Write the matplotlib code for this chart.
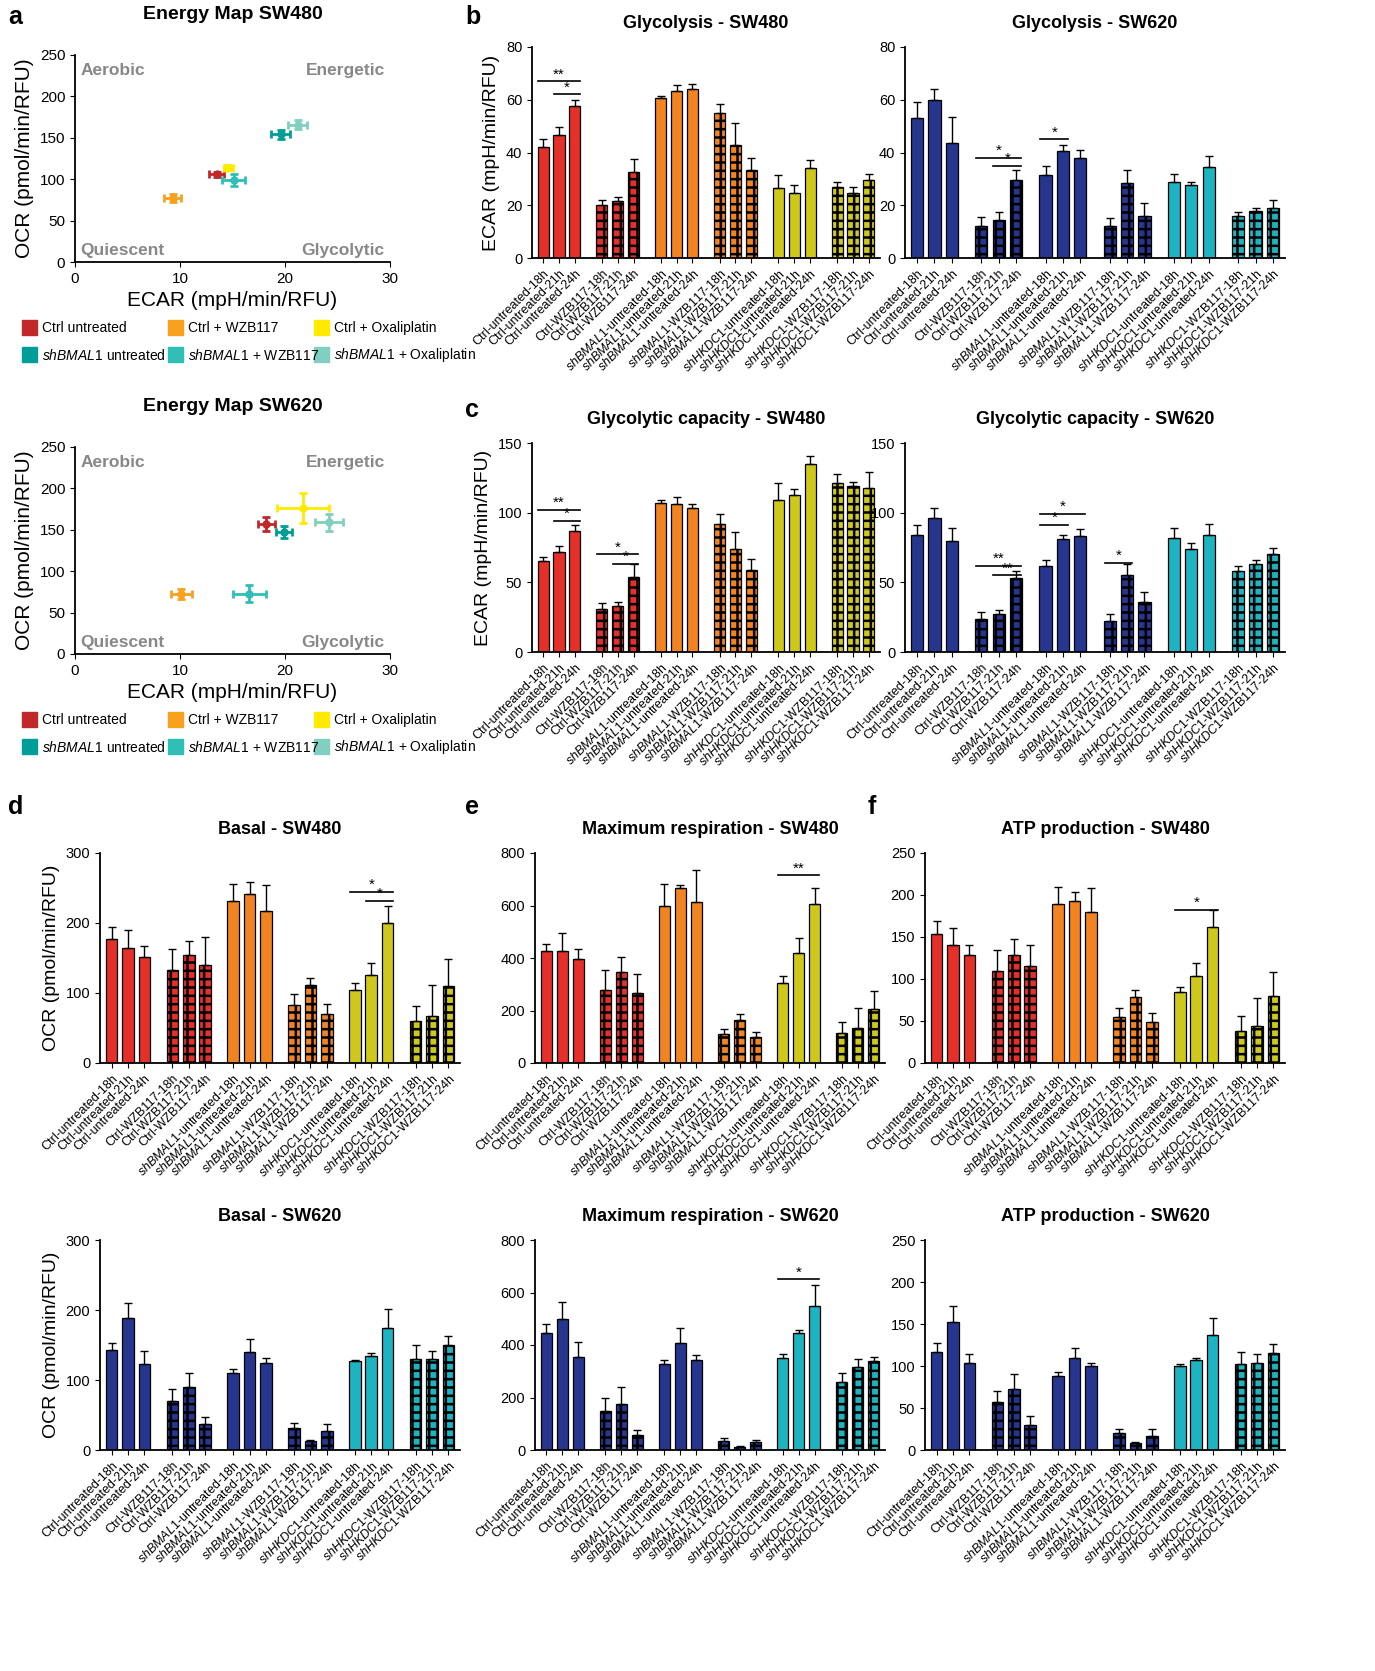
import numpy as np
import matplotlib.pyplot as plt

plt.rcParams['font.family'] = 'Liberation Sans'
plt.rcParams['mathtext.fontset'] = 'custom'
plt.rcParams['mathtext.it'] = 'Liberation Sans:italic'
plt.rcParams['mathtext.rm'] = 'Liberation Sans'
plt.rcParams['hatch.linewidth'] = 1.8

W, H = 1375, 1671
fig = plt.figure(figsize=(W/100, H/100), dpi=100)

def ax_px(x0, y0, x1, y1):
    return fig.add_axes([x0/W, 1-y1/H, (x1-x0)/W, (y1-y0)/H])

# ---------------- data ----------------
groups = ['Ctrl-untreated', 'Ctrl-WZB117', r'$\it{shBMAL}$$\it{1}$-untreated', r'$\it{shBMAL}$$\it{1}$-WZB117',
          r'$\it{shHKDC}$$\it{1}$-untreated', r'$\it{shHKDC}$$\it{1}$-WZB117']
times = ['18h', '21h', '24h']
labels = [g + '-' + t for g in groups for t in times]

glyc_480 = [42, 46.5, 57.5, 20, 21.5, 32.5, 60.5, 63.5, 64, 55, 43, 33.5, 26.5, 24.5, 34, 27, 24.5, 29.5]
glyc_480_e = [3, 3, 2.5, 2, 1.5, 5, 1, 2, 2, 3.5, 8, 4.5, 5, 3, 3, 2, 2.5, 2.5]
glyc_620 = [53, 60, 43.5, 12, 14.5, 29.5, 31.5, 40.5, 38, 12, 28.5, 16, 29, 27.5, 34.5, 16, 18, 19]
glyc_620_e = [6, 4, 10, 3.5, 3, 4, 3.5, 2.5, 3, 3, 5, 5, 3, 1.5, 4, 1.5, 1, 3]
cap_480 = [65, 72, 87, 31, 33, 54, 107, 106, 103, 92, 74, 59, 109, 113, 135, 121, 119, 118]
cap_480_e = [3, 4, 4, 4, 3, 9, 2, 5, 3, 7, 12, 8, 12, 4, 6, 7, 3, 11]
cap_620 = [84, 96, 80, 24, 27, 53, 62, 81, 83, 22, 55, 36, 82, 74, 84, 58, 63, 70]
cap_620_e = [7, 7, 9, 5, 3, 5, 4, 3, 5, 5, 8, 7, 7, 4, 8, 4, 3, 5]
basal_480 = [177, 165, 152, 133, 155, 140, 231, 242, 217, 83, 112, 70, 105, 126, 200, 60, 67, 110]
basal_480_e = [17, 25, 15, 30, 20, 40, 25, 17, 37, 15, 10, 15, 10, 17, 25, 22, 45, 38]
maxr_480 = [425, 425, 395, 280, 348, 265, 598, 665, 615, 110, 165, 100, 305, 420, 605, 115, 135, 205]
maxr_480_e = [30, 70, 40, 75, 55, 75, 85, 12, 120, 20, 20, 20, 25, 55, 60, 40, 75, 70]
atp_480 = [154, 141, 128, 110, 128, 116, 189, 193, 180, 55, 79, 49, 85, 104, 162, 38, 44, 80]
atp_480_e = [15, 20, 12, 25, 20, 25, 20, 10, 28, 10, 8, 10, 6, 15, 20, 18, 33, 28]
basal_620 = [143, 188, 123, 70, 90, 37, 110, 140, 125, 32, 13, 27, 127, 135, 175, 130, 130, 150]
basal_620_e = [10, 22, 18, 17, 20, 10, 6, 18, 6, 7, 2, 10, 2, 3, 27, 20, 12, 13]
maxr_620 = [445, 500, 355, 148, 175, 58, 328, 408, 342, 35, 12, 30, 352, 445, 550, 260, 318, 338]
maxr_620_e = [35, 65, 55, 50, 65, 20, 15, 55, 20, 10, 5, 10, 15, 12, 80, 35, 30, 15]
atp_620 = [117, 152, 104, 57, 73, 30, 88, 110, 100, 20, 8, 17, 100, 107, 137, 102, 104, 116]
atp_620_e = [10, 20, 10, 13, 17, 10, 5, 12, 4, 5, 2, 8, 2, 2, 20, 15, 10, 10]

em_names = ['Ctrl untreated', 'Ctrl + WZB117', 'Ctrl + Oxaliplatin',
            r'$\it{shBMAL}$$\it{1}$ untreated', r'$\it{shBMAL}$$\it{1}$ + WZB117', r'$\it{shBMAL}$$\it{1}$ + Oxaliplatin']
em_colors = ['#c0282a', '#f7a11f', '#ffea00', '#009e96', '#2fbfb5', '#80cfbf']
em480_x = [13.5, 9.3, 14.6, 19.6, 15.1, 21.2]
em480_xe = [0.7, 0.8, 0.4, 0.9, 1.1, 0.9]
em480_y = [106, 77, 114, 154, 99, 166]
em480_ye = [3, 5, 3, 5, 7, 5]
em620_x = [18.2, 10.1, 21.7, 19.9, 16.6, 24.2]
em620_xe = [0.8, 1.0, 2.5, 0.8, 1.6, 1.3]
em620_y = [157, 72, 176, 147, 73, 159]
em620_ye = [9, 6, 18, 7, 10, 10]

c480 = ['#e5302a', '#f28322', '#cfc81c']
c620 = ['#26368f', '#26368f', '#1db3c0']

# ---------------- helpers ----------------
def energy_map(ax, xs, xe, ys, ye, title, y_leg):
    for i in range(6):
        ax.errorbar(xs[i], ys[i], xerr=xe[i], yerr=ye[i], fmt='o', color=em_colors[i],
                    ms=5, capsize=3, elinewidth=2, capthick=2)
    ax.set_xlim(0, 30); ax.set_ylim(0, 250)
    ax.set_xticks([0, 10, 20, 30]); ax.set_yticks(range(0, 251, 50))
    for s in ['top', 'right']:
        ax.spines[s].set_visible(False)
    ax.spines['left'].set_linewidth(1.3); ax.spines['bottom'].set_linewidth(1.3)
    ax.tick_params(labelsize=11)
    ax.set_xlabel('ECAR (mpH/min/RFU)', fontsize=15)
    ax.set_ylabel('OCR (pmol/min/RFU)', fontsize=15)
    ax.set_title(title, fontsize=14, fontweight='bold', pad=26)
    kw = dict(color='#888888', fontsize=12.5, fontweight='bold')
    ax.text(0.5, 240, 'Aerobic', va='top', **kw)
    ax.text(29.5, 240, 'Energetic', va='top', ha='right', **kw)
    ax.text(0.5, 5, 'Quiescent', va='bottom', **kw)
    ax.text(29.5, 5, 'Glycolytic', va='bottom', ha='right', **kw)
    for i in range(6):
        px = 22 + (i % 3) * 146
        py = y_leg + (i // 3) * 27
        fig.patches.append(plt.Rectangle((px/W, 1-(py+7)/H), 15/W, 15/H, color=em_colors[i],
                                         transform=fig.transFigure))
        fig.text((px+20)/W, 1-py/H, em_names[i], fontsize=10, va='center')

def bar_panel(ax, vals, errs, colors, ymax, step, title, sigs, ylabel=None):
    x = np.array([g*3.7 + i for g in range(6) for i in range(3)])
    for k in range(18):
        g = k // 3
        col = colors[g // 2]
        hatched = g % 2 == 1
        ax.bar(x[k], vals[k], 0.7, color=col, edgecolor='black', linewidth=0.9,
               hatch='++' if hatched else None)
        ax.errorbar(x[k], vals[k], yerr=[[0], [errs[k]]], color='black', capsize=3, lw=1)
    ax.set_xlim(-0.7, x[-1] + 0.7)
    ax.set_ylim(0, ymax)
    ax.set_yticks(np.arange(0, ymax + 1, step))
    ax.set_xticks(x)
    ax.set_xticklabels(labels, rotation=45, ha='right', rotation_mode='anchor', fontsize=9)
    ax.tick_params(axis='y', labelsize=10.5)
    for s in ['top', 'right']:
        ax.spines[s].set_visible(False)
    ax.spines['left'].set_linewidth(1.3); ax.spines['bottom'].set_linewidth(1.3)
    ax.set_title(title, fontsize=13, fontweight='bold', pad=14)
    if ylabel:
        ax.set_ylabel(ylabel, fontsize=14)
    for i, j, y, t in sigs:
        ax.plot([x[i] - 0.3, x[j] + 0.3], [y, y], color='black', lw=1.2)
        ax.text((x[i] + x[j]) / 2, y, t, ha='center', va='bottom', fontsize=11)

# ---------------- layout ----------------
a1 = ax_px(75, 55, 390, 262)
energy_map(a1, em480_x, em480_xe, em480_y, em480_ye, 'Energy Map SW480', 328)
a2 = ax_px(75, 447, 390, 654)
energy_map(a2, em620_x, em620_xe, em620_y, em620_ye, 'Energy Map SW620', 720)

b1 = ax_px(532, 47, 880, 258)
bar_panel(b1, glyc_480, glyc_480_e, c480, 80, 20, 'Glycolysis - SW480',
          [(0, 2, 67, '**'), (1, 2, 62, '*')], 'ECAR (mpH/min/RFU)')
b2 = ax_px(905, 47, 1285, 258)
bar_panel(b2, glyc_620, glyc_620_e, c620, 80, 20, 'Glycolysis - SW620',
          [(3, 5, 38, '*'), (4, 5, 35, '*'), (6, 7, 45, '*')])
c1 = ax_px(532, 443, 880, 652)
bar_panel(c1, cap_480, cap_480_e, c480, 150, 50, 'Glycolytic capacity - SW480',
          [(0, 2, 102, '**'), (1, 2, 94, '*'), (3, 5, 70, '*'), (4, 5, 63, '*')], 'ECAR (mpH/min/RFU)')
c2 = ax_px(905, 443, 1285, 652)
bar_panel(c2, cap_620, cap_620_e, c620, 150, 50, 'Glycolytic capacity - SW620',
          [(3, 5, 62, '**'), (4, 5, 55, '**'), (6, 7, 91, '*'), (6, 8, 99, '*'), (9, 10, 64, '*')])

d1 = ax_px(100, 853, 460, 1063)
bar_panel(d1, basal_480, basal_480_e, c480, 300, 100, 'Basal - SW480',
          [(12, 14, 245, '*'), (13, 14, 232, '*')], 'OCR (pmol/min/RFU)')
e1 = ax_px(535, 853, 885, 1063)
bar_panel(e1, maxr_480, maxr_480_e, c480, 800, 200, 'Maximum respiration - SW480', [(12, 14, 715, '**')])
f1 = ax_px(925, 853, 1285, 1063)
bar_panel(f1, atp_480, atp_480_e, c480, 250, 50, 'ATP production - SW480', [(12, 14, 182, '*')])
d2 = ax_px(100, 1240, 460, 1450)
bar_panel(d2, basal_620, basal_620_e, c620, 300, 100, 'Basal - SW620', [], 'OCR (pmol/min/RFU)')
e2 = ax_px(535, 1240, 885, 1450)
bar_panel(e2, maxr_620, maxr_620_e, c620, 800, 200, 'Maximum respiration - SW620', [(12, 14, 650, '*')])
f2 = ax_px(925, 1240, 1285, 1450)
bar_panel(f2, atp_620, atp_620_e, c620, 250, 50, 'ATP production - SW620', [])

for lt, px, py in [('a', 8, 5), ('b', 465, 5), ('c', 465, 398), ('d', 8, 795), ('e', 465, 795), ('f', 868, 795)]:
    fig.text(px/W, 1-py/H, lt, fontsize=18, fontweight='bold', va='top')

fig.savefig('out.png', dpi=100)
